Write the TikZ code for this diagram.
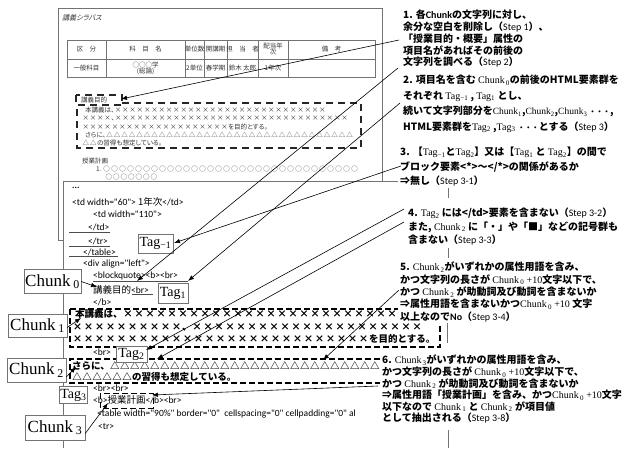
\documentclass[tikz,border=0pt]{standalone}
\usepackage{fontspec}
\usetikzlibrary{arrows.meta}
\setmainfont{Liberation Serif}
\newfontfamily\jp{Noto Sans CJK JP}
\newfontfamily\jpp[RawFeature=+palt]{Noto Sans CJK JP}
\newfontfamily\jpsl[RawFeature=+palt,FakeSlant=0.25]{Noto Sans CJK JP}
\newfontfamily\calf{Carlito}
\newfontfamily\tmsf{Liberation Serif}
\newcommand\rpt[3]{\foreach \ii in {1,...,#1}{\makebox[#2]{#3}}}
\newcommand\Ck[1]{{\tmsf\mdseries\fontsize{10}{10}\selectfont Chunk\textsubscript{\,#1}}}
\newcommand\Ckn[1]{{\tmsf\mdseries\fontsize{9.5}{10}\selectfont Chunk\textsubscript{#1}}}
\newcommand\Tg[1]{{\tmsf\mdseries\fontsize{10}{10}\selectfont Tag\textsubscript{#1}}}
\newcommand\Stp[1]{（{\calf\mdseries Step #1}）}
\newcommand\tdots{{\fontsize{7}{8}\selectfont ・・・}}
\begin{document}
\begin{tikzpicture}[x=1pt,y=-1pt,
  pageline/.style={draw=black!55, line width=0.6pt},
  pgtxt/.style={font=\jpp\fontsize{6.5}{7}\selectfont, text=black!80, inner sep=0pt, anchor=west},
  code/.style={font=\calf\fontsize{9.5}{11}\selectfont, inner sep=0pt, anchor=west},
  jcode/.style={font=\jp\bfseries\fontsize{9.5}{11}\selectfont, inner sep=0pt, anchor=west},
  uline/.style={draw=black!70, line width=0.5pt},
  dbox/.style={draw=black, line width=1.2pt, dash pattern=on 6pt off 3pt},
  pdbox/.style={draw=black!85, line width=1.2pt, dash pattern=on 7pt off 5pt},
  chunkbox/.style={draw=black!55, fill=white, font=\tmsf\fontsize{17}{18}\selectfont, inner sep=1pt, minimum width=57pt, minimum height=24pt},
  tagbox/.style={draw=black!55, fill=white, font=\tmsf\fontsize{14}{15}\selectfont, inner sep=1pt},
  ann/.style={align=left, anchor=north west, inner xsep=2pt, inner ysep=1pt, fill=white},
  arr/.style={-{Latex[length=6pt,width=4.5pt]}, line width=0.6pt},
  bar/.style={draw=black!55, line width=0.8pt}]
\useasboundingbox (0,0) rectangle (625,448);
\fill[white] (0,0) rectangle (625,448);

% ---------- syllabus page ----------
\draw[pageline] (58,8) rectangle (382,240);
\node[pgtxt, font=\jpsl\fontsize{7}{8}\selectfont] (title) at (62,18) {講義シラバス};
\draw[pageline] (67,40) rectangle (375,77);
\draw[pageline] (67,59) -- (375,59);
\foreach \x in {106,185,204,227,258,288} \draw[pageline] (\x,40) -- (\x,77);
\node[pgtxt, anchor=center] (h1) at (86.5,49.5) {区　分};
\node[pgtxt, anchor=center] (h2) at (145.5,49.5) {科　目　名};
\node[pgtxt, anchor=center] (h3) at (194.5,49.5) {単位数};
\node[pgtxt, anchor=center] (h4) at (215.5,49.5) {開講期};
\node[pgtxt, anchor=center] (h5) at (242.5,49.5) {担　当　者};
\node[pgtxt, anchor=center, align=center] (h6) at (273,49.5) {配当年\\[-1pt]次};
\node[pgtxt, anchor=center] (h7) at (331.5,49.5) {備　考};
\node[pgtxt, anchor=center] (d1) at (86.5,68) {一般科目};
\node[pgtxt, anchor=center, align=center] (d2) at (145.5,68) {○○○学\\[-1pt](総論)};
\node[pgtxt, anchor=center] (d3) at (194.5,68) {2単位};
\node[pgtxt, anchor=center] (d4) at (215.5,68) {春学期};
\node[pgtxt, anchor=center] (d5) at (242.5,68) {鈴木 太郎};
\node[pgtxt, anchor=center] (d6) at (273,68) {1年次};

\node[pgtxt] (pk) at (81,100) {講義目的};
\draw[pdbox] (76,95) rectangle (122,105);
\draw[pdbox] (122,103) -- (361,103) -- (361,148) -- (77,148) -- (77,105);
\node[pgtxt] (p1) at (85,110) {本講義は、\rpt{29}{7.3pt}{×}};
\node[pgtxt] (p2) at (82,118) {\rpt{4}{7.3pt}{×}、\rpt{32}{7.3pt}{×}};
\node[pgtxt] (p3) at (82,127) {\rpt{20}{7.3pt}{×}を目的とする。};
\node[pgtxt] (p4) at (85,135) {さらに、\rpt{33}{7.5pt}{△}};
\node[pgtxt] (p5) at (82,143) {\rpt{2}{7.5pt}{△}の習得も想定している。};
\node[pgtxt] (p6) at (82,161) {授業計画};
\node[pgtxt] (p7) at (96,169) {1.\,\rpt{32}{8pt}{○}};
\node[pgtxt] (p8) at (105,177) {\rpt{7}{7.5pt}{○}};

% ---------- HTML code box ----------
\fill[white] (63,181) rectangle (625,448);
\draw[pageline] (63,448) -- (63,181) -- (404,181);
\node[code, font=\calf\bfseries\fontsize{9}{10}\selectfont] (k0) at (72,188) {...};
\node[code] (k1) at (72,202) {<td width="60"> {\jp 1年次}</td>};
\node[code] (k2) at (93,214) {<td width="110">};
\node[code] (k3) at (88,227) {</td>};
\node[code] (k4) at (88,241) {</tr>};
\node[code] (k5) at (83,252) {</table>};
\node[code] (k6) at (83,264) {<div align="left">};
\node[code] (k7) at (93,276) {<blockquote><b><br>};
\node[code] (k8) at (93,290) {{\jp 講義目的}<br>};
\node[code] (k9) at (93,302) {</b>};
\node[code] (k10) at (93,352) {<br>};
\node[code] (k11) at (93,388) {<br><br>};
\node[code] (k12) at (93,400) {<b>{\jp 授業計画}</b><br>};
\node[code] (k13) at (97,414) {<table width="90\%" border="0"\ \ cellspacing="0" cellpadding="0" al};
\node[code] (k14) at (98,427) {<tr>};
\draw[uline] (69,232) -- (110,232);
\draw[uline] (69,246) -- (110,246);
\draw[uline] (69,256) -- (118,256);
\draw[uline] (93,281) -- (188,281);
\draw[uline] (132,294) -- (153,294);

\node[jcode] (c1a) at (75,314) {本講義は、\rpt{25}{11pt}{×}};
\node[jcode] (c1b) at (72,327) {\rpt{10}{11pt}{×}、\rpt{21}{11pt}{×}};
\node[jcode] (c1c) at (72,339) {\rpt{27}{11pt}{×}を目的とする。};
\node[jcode] (c2a) at (72,366) {さらに、\rpt{30}{10pt}{△}};
\node[jcode] (c2b) at (72,377) {\rpt{6}{10pt}{△}の習得も想定している。};
\draw[dbox] (70,309) rectangle (440,347);
\draw[dbox] (380,359) -- (70,359) -- (70,383) -- (380,383);
\draw[dbox, line width=1pt] (100,393) rectangle (153,408);

% ---------- labels ----------
\node[tagbox, minimum width=35pt, minimum height=19pt] (tm1) at (155.5,243.5) {Tag\textsubscript{−1}};
\node[tagbox, minimum width=30pt, minimum height=20pt] (tg1) at (173,293) {Tag\textsubscript{1}};
\node[tagbox, minimum width=31pt, minimum height=16pt] (tg2) at (131.5,354) {Tag\textsubscript{2}};
\node[tagbox, minimum width=27pt, minimum height=17pt] (tg3) at (73.5,395) {Tag\textsubscript{3}};
\node[chunkbox] (ch0) at (52.5,281.5) {Chunk\,\textsubscript{0}};
\node[chunkbox, minimum width=59pt, minimum height=23pt] (ch1) at (37.5,325.5) {Chunk\,\textsubscript{1}};
\node[chunkbox, minimum width=59pt] (ch2) at (36.5,370) {Chunk\,\textsubscript{2}};
\node[chunkbox, minimum width=60pt, minimum height=25pt] (ch3) at (55,427.5) {Chunk\,\textsubscript{3}};

% ---------- annotations ----------
\node[ann, font=\jp\bfseries\fontsize{10}{11.75}\selectfont] (a1) at (401,9) {1. 各{\calf Chunk}の文字列に対し、\\余分な空白を削除し\Stp{1}、\\「授業目的・概要」属性の\\項目名があればその前後の\\文字列を調べる\Stp{2}};
\node[ann, font=\jp\bfseries\fontsize{10}{15.5}\selectfont] (a2) at (401,74) {2. 項目名を含む \Ck{0}の前後のHTML要素群を\\それぞれ \Tg{−1} , \Tg{1} とし、\\続いて文字列部分を\Ckn{1},\Ckn{2},\Ckn{3}\,\tdots{},\\HTML要素群を\Tg{2} ,\Tg{3} \tdots{}とする\Stp{3}};
\node[ann, font=\jp\bfseries\fontsize{10}{14.5}\selectfont] (a3) at (398,146) {3. 【\Tg{−1}と\Tg{2}】又は【\Tg{1} と \Tg{2}】の間で\\ブロック要素<*>〜</*>の関係があるか\\⇒無し\Stp{3-1}};
\node[ann, font=\jp\bfseries\fontsize{10}{13.5}\selectfont] (a4) at (406,207) {4.  \Tg{2} には</td>要素を含まない\Stp{3-2}\\また, \Ck{2} に「・」や「■」などの記号群も\\含まない\Stp{3-3}};
\node[ann, font=\jp\bfseries\fontsize{10}{12.3}\selectfont] (a5) at (398,261) {5. \Ck{2}がいずれかの属性用語を含み、\\かつ文字列の長さが \Ck{0} {\tmsf\mdseries +10}文字以下で、\\かつ \Ck{2} が助動詞及び動詞を含まないか\\⇒属性用語を含まないかつ\Ck{0} {\tmsf\mdseries +10} 文字\\以上なので{\calf No}\Stp{3-4}};
\node[ann, font=\jp\bfseries\fontsize{10}{11.6}\selectfont] (a6) at (380,354) {6. \Ck{3}がいずれかの属性用語を含み、\\かつ文字列の長さが \Ck{0} {\tmsf\mdseries +10}文字以下で、\\かつ \Ck{2} が助動詞及び動詞を含まないか\\⇒属性用語「授業計画」を含み、かつ\Ck{0} {\tmsf\mdseries +10}文字\\以下なので \Ck{1} と \Ck{2} が項目値\\として抽出される\Stp{3-8}};

% flow bars
\draw[bar] (448,188) -- (448,198);
\draw[bar] (448,248) -- (448,258);
\draw[bar] (447,323) -- (447,343);
\draw[bar] (448,430) -- (448,448);

% ---------- arrows ----------
\coordinate (s1) at (399,40);   \coordinate (e1) at (121,99);
\coordinate (s2) at (398,68);   \coordinate (e2) at (137,281);
\coordinate (s3) at (400,103);  \coordinate (e3) at (188,281);
\coordinate (s4) at (401,166);  \coordinate (e4) at (174,243);
\coordinate (s5) at (404,209);  \coordinate (e5) at (146,350);
\coordinate (s6) at (404,222);  \coordinate (e6) at (157,359);
\coordinate (s7) at (399,290);  \coordinate (e7) at (323,360);
\coordinate (s8) at (378,386);  \coordinate (e8) at (152,395);
\foreach \i in {1,...,8} \draw[arr] (s\i) -- (e\i);
\coordinate (t0) at (97,287);
\coordinate (t1) at (81,318);
\coordinate (t2) at (76,367);
\coordinate (t3) at (108,403);
\draw[arr] (ch0.east) -- (t0);
\draw[arr] (ch1.east) ++(0,2) -- (t1);
\draw[arr] (ch2.east) ++(0,7) -- (t2);
\draw[arr] (ch3.east) ++(0,6) -- (t3);
\end{tikzpicture}
\end{document}
